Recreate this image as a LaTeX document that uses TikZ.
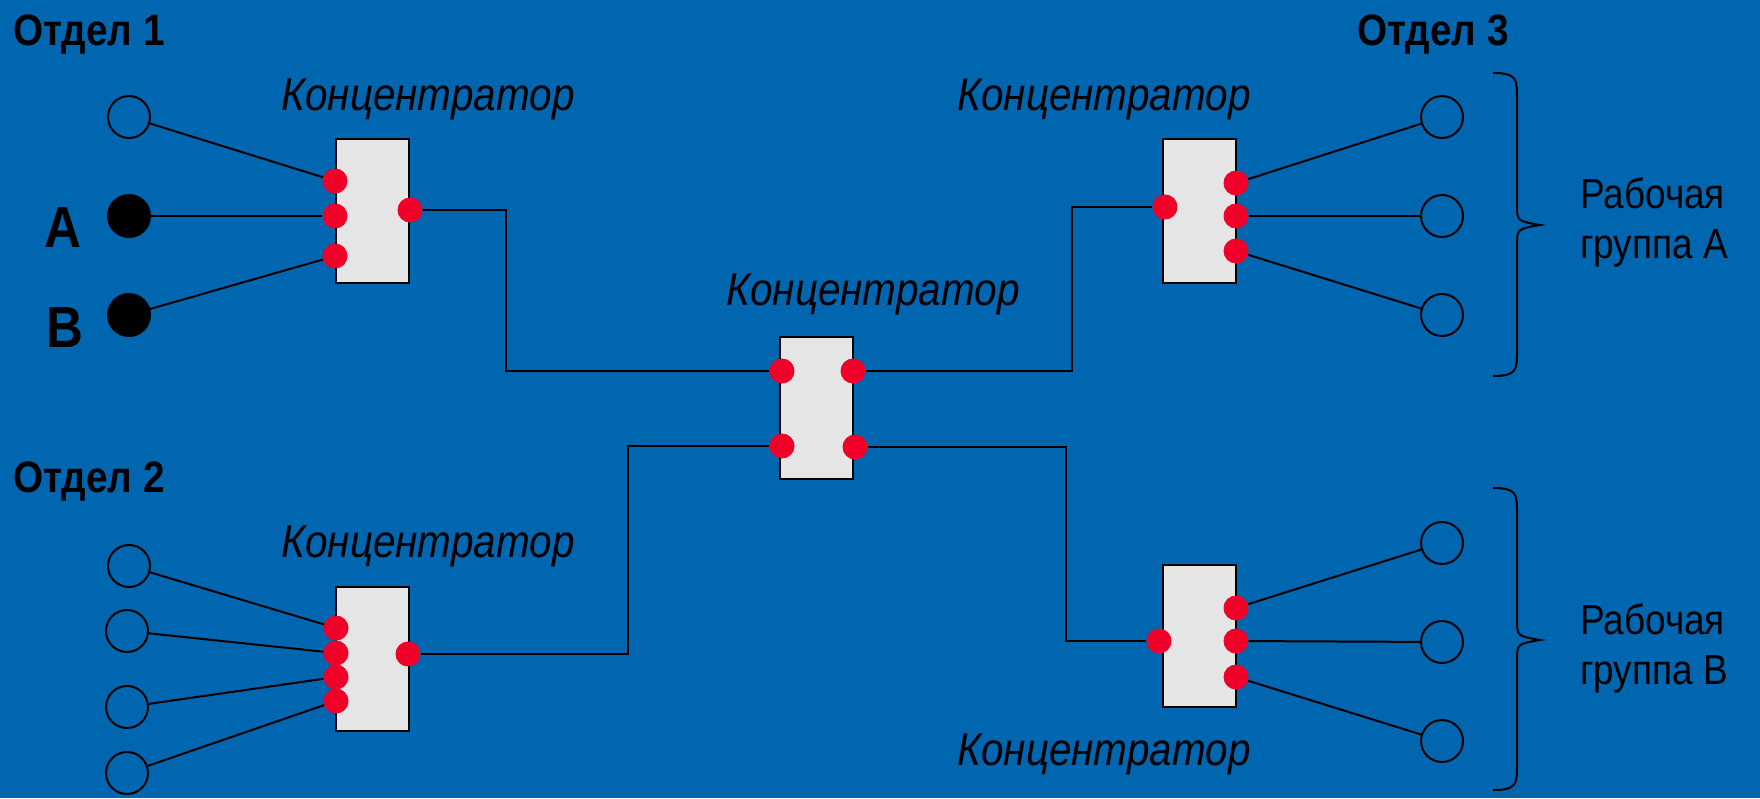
\documentclass[tikz,border=0pt]{standalone}
\usepackage{fontspec}
\newfontfamily\labelfont[FakeStretch=0.88]{Liberation Sans}
\definecolor{bgblue}{RGB}{0,102,176}
\definecolor{portred}{RGB}{240,0,40}
\definecolor{boxgray}{RGB}{229,229,229}
\begin{document}
\begin{tikzpicture}[x=1pt,y=-1pt]

\tikzset{hub/.style = {shape=rectangle,draw,fill=boxgray,line width=2pt,minimum width=73pt,minimum height=144pt,inner sep=0}}
\tikzset{port/.style = {shape=circle,fill=portred,minimum size=25pt,inner sep=0}}
\tikzset{pc/.style = {shape=circle,draw,line width=2pt,minimum size=42pt,inner sep=0}}
\tikzset{pcfull/.style = {pc,fill=black}}
\tikzset{wire/.style = {line width=2pt}}
\tikzset{hubname/.style = {font=\labelfont\itshape\fontsize{46}{50}\selectfont,anchor=base,inner sep=0}}
\tikzset{dept/.style = {font=\labelfont\bfseries\fontsize{44}{50}\selectfont,anchor=base west,inner sep=0}}
\tikzset{group/.style = {font=\labelfont\fontsize{42}{50}\selectfont,anchor=west,align=left,inner sep=0}}
\useasboundingbox (0,0) rectangle (1760,798);
\fill[bgblue] (0,0) rectangle (1760,798);
%hubs
\node[hub] (hub1) at (372.5,210.5) {};
\node[hub] (hub2) at (372.5,658.5) {};
\node[hub,minimum height=142pt] (hub0) at (816.5,408) {};
\node[hub] (hub3) at (1199,210.5) {};
\node[hub,minimum height=142pt] (hub4) at (1199,636) {};
%ports
\node[port] (p1a) at (335,181) {};
\node[port] (p1b) at (335,216) {};
\node[port] (p1c) at (335,256) {};
\node[port] (p1o) at (410,210) {};
\node[port] (p2a) at (336,628) {};
\node[port] (p2b) at (336,653) {};
\node[port] (p2c) at (336,677) {};
\node[port] (p2d) at (336,701) {};
\node[port] (p2o) at (408,654) {};
\node[port] (p0a) at (782,371) {};
\node[port] (p0b) at (782,446) {};
\node[port] (p0c) at (853,371) {};
\node[port] (p0d) at (855,447) {};
\node[port] (p3i) at (1165,207) {};
\node[port] (p3a) at (1236,183) {};
\node[port] (p3b) at (1236,216) {};
\node[port] (p3c) at (1236,251) {};
\node[port] (p4i) at (1159,641) {};
\node[port] (p4a) at (1236,608) {};
\node[port] (p4b) at (1236,641) {};
\node[port] (p4c) at (1236,677) {};
%stations
\node[pc] (s1a) at (129,117) {};
\node[pcfull] (s1b) at (129,216) {};
\node[pcfull] (s1c) at (129,315) {};
\node[pc] (s2a) at (129,566) {};
\node[pc] (s2b) at (127,631) {};
\node[pc] (s2c) at (127,707) {};
\node[pc] (s2d) at (127,773) {};
\node[pc] (s3a) at (1442,117) {};
\node[pc] (s3b) at (1442,216) {};
\node[pc] (s3c) at (1442,315) {};
\node[pc] (s4a) at (1442,543) {};
\node[pc] (s4b) at (1442,642) {};
\node[pc] (s4c) at (1442,741) {};
%labels
\node[dept] (dep1) at (13,45) {Отдел 1};
\node[dept] (dep2) at (13,492) {Отдел 2};
\node[dept] (dep3) at (1357,45) {Отдел 3};
\node[hubname] (name1) at (428,110) {Концентратор};
\node[hubname] (name2) at (428,557) {Концентратор};
\node[hubname] (name0) at (873,305) {Концентратор};
\node[hubname] (name3) at (1104,110) {Концентратор};
\node[hubname] (name4) at (1104,765) {Концентратор};
\node[dept,anchor=base,font=\labelfont\bfseries\fontsize{58}{60}\selectfont] (labA) at (63,247) {A};
\node[dept,anchor=base,font=\labelfont\bfseries\fontsize{58}{60}\selectfont] (labB) at (65,347) {B};
\node[group] (grpA) at (1580,222) {Рабочая\\группа А};
\node[group] (grpB) at (1580,648) {Рабочая\\группа В};
%wires
\draw[wire] (s1a) -- (p1a);
\draw[wire] (s1b) -- (p1b);
\draw[wire] (s1c) -- (p1c);
\draw[wire] (s2a) -- (p2a);
\draw[wire] (s2b) -- (p2b);
\draw[wire] (s2c) -- (p2c);
\draw[wire] (s2d) -- (p2d);
\draw[wire] (p3a) -- (s3a);
\draw[wire] (p3b) -- (s3b);
\draw[wire] (p3c) -- (s3c);
\draw[wire] (p4a) -- (s4a);
\draw[wire] (p4b) -- (s4b);
\draw[wire] (p4c) -- (s4c);
\coordinate (j1) at (506,300);
\coordinate (j2) at (628,550);
\coordinate (j3) at (1072,300);
\coordinate (j4) at (1066,550);
\draw[wire] (p1o) -| (j1) |- (p0a);
\draw[wire] (p2o) -| (j2) |- (p0b);
\draw[wire] (p0c) -| (j3) |- (p3i);
\draw[wire] (p0d) -| (j4) |- (p4i);
%braces
\foreach \t/\m/\b in {73/225/376, 488/640/790}
  \draw[wire] (1493,\t) .. controls (1517,\t) and (1517,\t+6) .. (1517,\t+26) -- (1517,\m-20)
    .. controls (1517,\m-4) .. (1540,\m) .. controls (1517,\m+4) .. (1517,\m+20)
    -- (1517,\b-26) .. controls (1517,\b-6) and (1517,\b) .. (1493,\b);

\end{tikzpicture}
\end{document}
